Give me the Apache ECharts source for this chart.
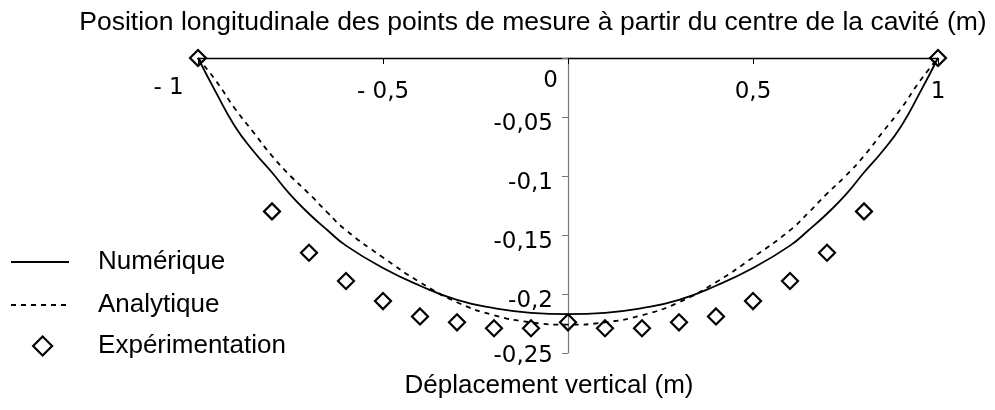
<!DOCTYPE html>
<html>
<head>
<meta charset="utf-8">
<script src="https://cdn.jsdelivr.net/npm/echarts@6/dist/echarts.min.js"></script>
<style>html,body{margin:0;padding:0;background:#fff;}#c{width:995px;height:410px;}</style>
</head>
<body>
<div id="c"></div>
<script>
// Position (m) for the two curves
var lineX = [-1, -0.95, -0.9, -0.85, -0.8, -0.75, -0.7, -0.65, -0.6, -0.5, -0.4, -0.3, -0.2, -0.1, 0, 0.1, 0.2, 0.3, 0.4, 0.5, 0.6, 0.65, 0.7, 0.75, 0.8, 0.85, 0.9, 0.95, 1];
var numerique = [0, -0.03, -0.058, -0.079, -0.097, -0.116, -0.132, -0.146, -0.159, -0.178, -0.193, -0.205, -0.212, -0.216, -0.217, -0.216, -0.212, -0.205, -0.193, -0.178, -0.159, -0.146, -0.132, -0.116, -0.097, -0.079, -0.058, -0.03, 0];
var analytique = [0, -0.02, -0.043, -0.063, -0.083, -0.1, -0.115, -0.131, -0.146, -0.169, -0.19, -0.207, -0.218, -0.224, -0.226, -0.224, -0.218, -0.207, -0.19, -0.169, -0.146, -0.131, -0.115, -0.1, -0.083, -0.063, -0.043, -0.02, 0];
// Experimental points
var expX = [-1, -0.8, -0.7, -0.6, -0.5, -0.4, -0.3, -0.2, -0.1, 0, 0.1, 0.2, 0.3, 0.4, 0.5, 0.6, 0.7, 0.8, 1];
var expY = [0, -0.13, -0.165, -0.189, -0.206, -0.219, -0.224, -0.229, -0.229, -0.224, -0.229, -0.229, -0.224, -0.219, -0.206, -0.189, -0.165, -0.13, 0];
// Tick labels
var xTicks = [-1, -0.5, 0, 0.5, 1];
var xTickLabels = ['- 1', '- 0,5', '', '0,5', '1'];
var yTicks = [0, -0.05, -0.1, -0.15, -0.2, -0.25];
var yTickLabels = ['0', '-0,05', '-0,1', '-0,15', '-0,2', '-0,25'];

function idx(arr, v) {
  var best = 0;
  for (var i = 1; i < arr.length; i++) if (Math.abs(arr[i] - v) < Math.abs(arr[best] - v)) best = i;
  return best;
}
function pairs(xs, ys) { return xs.map(function (x, i) { return [x, ys[i]]; }); }

var chart = echarts.init(document.getElementById('c'), null, {renderer: 'canvas'});
var arial = '"Liberation Sans", Arial, sans-serif';
var tickFont = '"DejaVu Sans", sans-serif';
var legendText = {fontFamily: arial, fontSize: 26, color: '#000', lineHeight: 30};

chart.setOption({
  animation: false,
  backgroundColor: '#fff',
  textStyle: {fontFamily: arial, color: '#000'},
  grid: {left: 198, right: 57, top: 58, bottom: 57, containLabel: false},
  legend: [
    {
      orient: 'vertical', left: 10, top: 247, padding: 0,
      itemWidth: 58, itemHeight: 14, itemGap: 13,
      textStyle: Object.assign({padding: [0, 0, 0, 24]}, legendText),
      data: ['Numérique', 'Analytique']
    },
    {
      orient: 'vertical', left: 32, top: 331, padding: 0,
      itemWidth: 19, itemHeight: 19, itemGap: 13,
      itemStyle: {borderWidth: 2.2, borderColor: '#000', color: 'rgba(255,255,255,0)'},
      textStyle: Object.assign({padding: [0, 0, 0, 41]}, legendText),
      data: ['Expérimentation']
    }
  ],
  xAxis: {
    type: 'value', position: 'top', min: -1, max: 1, interval: 0.5,
    name: 'Position longitudinale des points de mesure à partir du centre de la cavité (m)',
    nameLocation: 'middle', nameGap: 35,
    nameTextStyle: {fontFamily: arial, fontSize: 26.5, color: '#000', align: 'center', verticalAlign: 'middle', padding: [0, 70, 0, 0]},
    axisLine: {show: true, onZero: false, lineStyle: {color: '#000', width: 1.3}},
    axisTick: {show: true, inside: true, length: 6, lineStyle: {color: '#000', width: 1}},
    splitLine: {show: false},
    axisLabel: {
      inside: true, margin: 17, fontFamily: tickFont, fontSize: 23, color: '#000', lineHeight: 26,
      verticalAlign: 'top', showMinLabel: true, showMaxLabel: true,
      formatter: function (v) {
        var i = idx(xTicks, v);
        var t = xTickLabels[i];
        if (!t) return '';
        return i === 0 ? '{a|' + t + '}' : '{b|' + t + '}';
      },
      rich: {
        a: {fontFamily: tickFont, fontSize: 23, color: '#000', lineHeight: 26, padding: [0, 59, 0, 0]},
        b: {fontFamily: tickFont, fontSize: 23, color: '#000', lineHeight: 26, padding: [9, 0, 0, 0]}
      }
    }
  },
  yAxis: {
    type: 'value', min: -0.25, max: 0, interval: 0.05,
    position: 'left', offset: -370,
    name: 'Déplacement vertical (m)',
    nameLocation: 'start', nameGap: 33,
    nameTextStyle: {fontFamily: arial, fontSize: 26, color: '#000', align: 'center', verticalAlign: 'middle', padding: [0, 38, 0, 0]},
    axisLine: {show: true, onZero: false, lineStyle: {color: '#777', width: 1.2}},
    axisTick: {show: true, inside: false, length: 6, lineStyle: {color: '#777', width: 1}},
    splitLine: {show: false},
    axisLabel: {
      margin: 10, fontFamily: tickFont, fontSize: 23, color: '#000', lineHeight: 26,
      showMinLabel: true, showMaxLabel: true,
      formatter: function (v) {
        var i = idx(yTicks, v);
        var t = yTickLabels[i];
        if (i === 0) return '{z|' + t + '}';
        if (i === yTicks.length - 1) return '{l|' + t + '}';
        return '{n|' + t + '}';
      },
      rich: {
        z: {fontFamily: tickFont, fontSize: 23, color: '#000', lineHeight: 26, padding: [46, 0, 0, 0]},
        n: {fontFamily: tickFont, fontSize: 23, color: '#000', lineHeight: 26, padding: [14, 5, 0, 0]},
        l: {fontFamily: tickFont, fontSize: 23, color: '#000', lineHeight: 26, padding: [6, 5, 0, 0]}
      }
    }
  },
  series: [
    {
      name: 'Numérique', type: 'line', data: pairs(lineX, numerique),
      symbol: 'none', smooth: 0.5, z: 2,
      lineStyle: {color: '#000', width: 1.8, type: 'solid'},
      itemStyle: {color: 'rgba(0,0,0,0)', borderWidth: 0}
    },
    {
      name: 'Analytique', type: 'line', data: pairs(lineX, analytique),
      symbol: 'none', smooth: 0.5, z: 2,
      lineStyle: {color: '#000', width: 1.8, type: [5, 5]},
      itemStyle: {color: 'rgba(0,0,0,0)', borderWidth: 0}
    },
    {
      name: 'Expérimentation', type: 'scatter', data: pairs(expX, expY),
      symbol: 'diamond', symbolSize: 16, z: 3,
      itemStyle: {color: 'rgba(255,255,255,0)', borderColor: '#000', borderWidth: 2.2, opacity: 1}
    }
  ]
});
</script>
</body>
</html>
